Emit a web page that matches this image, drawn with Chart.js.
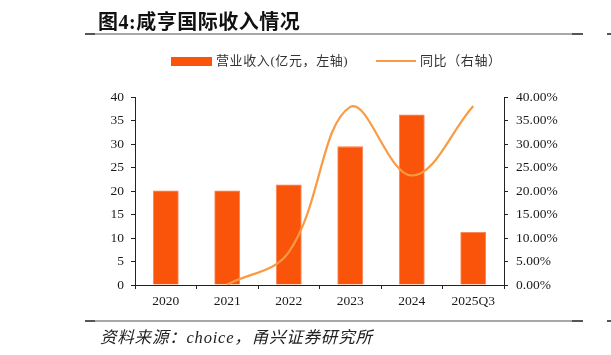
<!DOCTYPE html>
<html>
<head>
<meta charset="utf-8">
<script src="https://cdn.jsdelivr.net/npm/chart.js@4.4.1/dist/chart.umd.min.js"></script>
<style>
  html, body { margin: 0; padding: 0; background: #fff; }
  #wrap { position: relative; width: 611px; height: 355px; overflow: hidden; background: #fff; }
  #c { position: absolute; left: 0; top: 0; }
  .abs { position: absolute; white-space: nowrap; }
  #title { left: 98px; top: 6px; font: bold 20px "Liberation Serif", "Noto Sans CJK SC", serif; color: #111; letter-spacing: 0.5px; }
  .hline { position: absolute; height: 2px; background: #a8a8a8; }
  .hdark { position: absolute; height: 2px; background: #555; }
  .leg { font: 13px "Liberation Serif", "Noto Sans CJK SC", serif; color: #333; line-height: 16px; letter-spacing: 0.6px; }
  #src { left: 100px; top: 324px; font: italic 16.5px "Liberation Serif", "Noto Sans CJK SC", serif; color: #222; letter-spacing: 0.8px; }
</style>
</head>
<body>
<div id="wrap">
  <canvas id="c" width="611" height="355"></canvas>
  <div id="title" class="abs">图4:咸亨国际收入情况</div>
  <div class="hline" style="left:85px; top:33px; width:498px;"></div>
  <div class="hdark" style="left:85px; top:33px; width:10px;"></div>
  <div class="hdark" style="left:572px; top:33px; width:11px;"></div>
  <div class="hdark" style="left:607px; top:33px; width:4px;"></div>

  <div class="abs" style="left:171px; top:57px; width:41px; height:9px; background:#F95409;"></div>
  <div class="abs leg" style="left:216px; top:53px;">营业收入(亿元，左轴)</div>
  <div class="abs" style="left:376px; top:60px; width:40px; height:2px; background:#F99B45;"></div>
  <div class="abs leg" style="left:420px; top:53px;">同比（右轴）</div>

  <div class="hline" style="left:85px; top:320px; width:498px;"></div>
  <div class="hdark" style="left:85px; top:320px; width:10px;"></div>
  <div class="hdark" style="left:572px; top:320px; width:11px;"></div>
  <div class="hdark" style="left:607px; top:320px; width:4px;"></div>
  <div id="src" class="abs">资料来源：choice，甬兴证券研究所</div>
</div>
<script>
const categories = ['2020', '2021', '2022', '2023', '2024', '2025Q3'];
const revenue = [20.1, 20.1, 21.4, 29.5, 36.3, 11.3];
const yoy = [null, 0.1, 7.0, 37.9, 23.3, 38.1];
const leftTicks = [0, 5, 10, 15, 20, 25, 30, 35, 40];
const rightTicks = [0, 5, 10, 15, 20, 25, 30, 35, 40];

const tickFont = { family: '"Liberation Serif", "Times New Roman", serif', size: 13.5 };
const axisColor = '#222';

new Chart(document.getElementById('c'), {
  data: {
    labels: categories,
    datasets: [
      {
        type: 'line',
        label: '同比（右轴）',
        data: yoy,
        yAxisID: 'y2',
        borderColor: '#F99B45',
        borderWidth: 2.2,
        pointRadius: 0,
        tension: 0.38,
        fill: false,
        order: 0
      },
      {
        type: 'bar',
        label: '营业收入(亿元，左轴)',
        data: revenue,
        yAxisID: 'y',
        backgroundColor: '#F95409',
        borderColor: '#FA7A45',
        borderWidth: 0.8,
        categoryPercentage: 1,
        barPercentage: 0.42,
        order: 1
      }
    ]
  },
  options: {
    responsive: false,
    animation: false,
    events: [],
    layout: { padding: { left: 0, right: 0, top: 97, bottom: 0 } },
    plugins: { legend: { display: false }, tooltip: { enabled: false } },
    scales: {
      x: {
        offset: true,
        grid: { display: true, drawOnChartArea: false, drawTicks: true, tickLength: 4, offset: true, color: axisColor },
        border: { display: true, color: axisColor, width: 1 },
        ticks: { font: tickFont, color: '#1a1a1a', padding: 4, maxRotation: 0 },
        afterFit: s => { s.height = 70; }
      },
      y: {
        position: 'left',
        min: 0, max: 40,
        afterBuildTicks: s => { s.ticks = leftTicks.map(v => ({ value: v })); },
        grid: { display: true, drawOnChartArea: false, drawTicks: true, tickLength: 4, color: axisColor },
        border: { display: true, color: axisColor, width: 1 },
        ticks: { font: tickFont, color: '#1a1a1a', padding: 7 },
        afterFit: s => { s.width = 135; }
      },
      y2: {
        position: 'right',
        min: 0, max: 40,
        afterBuildTicks: s => { s.ticks = rightTicks.map(v => ({ value: v })); },
        grid: { display: true, drawOnChartArea: false, drawTicks: true, tickLength: 4, color: axisColor },
        border: { display: true, color: axisColor, width: 1 },
        ticks: { font: tickFont, color: '#1a1a1a', padding: 8, callback: v => v.toFixed(2) + '%' },
        afterFit: s => { s.width = 107; }
      }
    }
  }
});
</script>
</body>
</html>
